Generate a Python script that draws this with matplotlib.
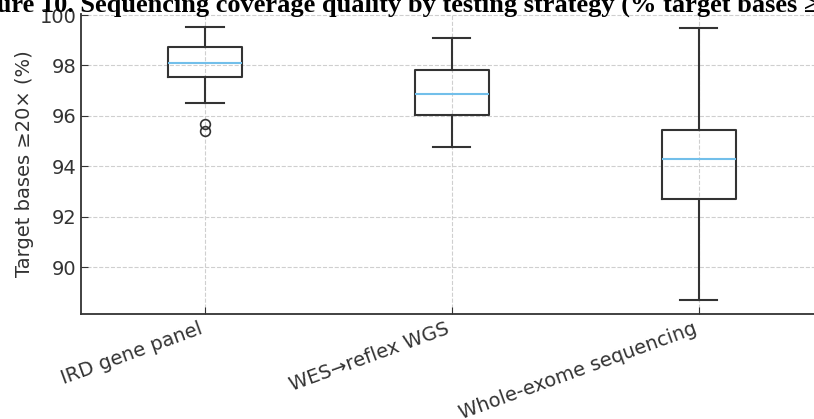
import matplotlib
matplotlib.use("Agg")
import matplotlib.pyplot as plt

# per-strategy coverage summary (% target bases >= 20x)
strategies = ["IRD gene panel", "WES\u2192reflex WGS", "Whole-exome sequencing"]
whis_low = [96.5, 94.78, 88.69]
q1 = [97.53, 96.02, 92.70]
median = [98.09, 96.88, 94.28]
q3 = [98.72, 97.82, 95.46]
whis_high = [99.51, 99.08, 99.50]
outliers = [[95.68, 95.40], [], []]

stats = []
for i, name in enumerate(strategies):
    stats.append({
        "label": name,
        "whislo": whis_low[i],
        "q1": q1[i],
        "med": median[i],
        "q3": q3[i],
        "whishi": whis_high[i],
        "fliers": outliers[i],
    })

dark = "#333333"
fig = plt.figure(figsize=(8.14, 4.19), dpi=100)
ax = fig.add_axes([0.1001, 0.2506, 0.9103, 0.716])

line = dict(color=dark, linewidth=1.5)
ax.bxp(stats, widths=0.3,
       boxprops=line, whiskerprops=line, capprops=line,
       medianprops=dict(color="#72bfea", linewidth=1.5),
       flierprops=dict(marker="o", markerfacecolor="none",
                       markeredgecolor=dark, markersize=7, markeredgewidth=1.2))

ax.set_xlim(0.5, 3.5)
ax.set_ylim(88.15, 100.04)
ax.set_yticks([90, 92, 94, 96, 98, 100])
ax.grid(True, linestyle="--", color="#cfcfcf", linewidth=0.8)
ax.set_axisbelow(True)
for side in ["top", "right"]:
    ax.spines[side].set_visible(False)
for side in ["left", "bottom"]:
    ax.spines[side].set_color(dark)
    ax.spines[side].set_linewidth(1.3)

ax.tick_params(direction="in", length=5, color=dark, labelcolor=dark, labelsize=14)
ax.set_xticks([1, 2, 3])
ax.set_xticklabels(strategies, rotation=20, ha="right")
ax.set_ylabel("Target bases \u226520\u00d7 (%)", fontsize=14, color=dark)

fig.text(0.509, 0.972,
         "Figure 10. Sequencing coverage quality by testing strategy (% target bases \u226520\u00d7)",
         ha="center", va="baseline", fontsize=19, fontweight="bold",
         family="Liberation Serif")

fig.savefig("out.png", dpi=100)
